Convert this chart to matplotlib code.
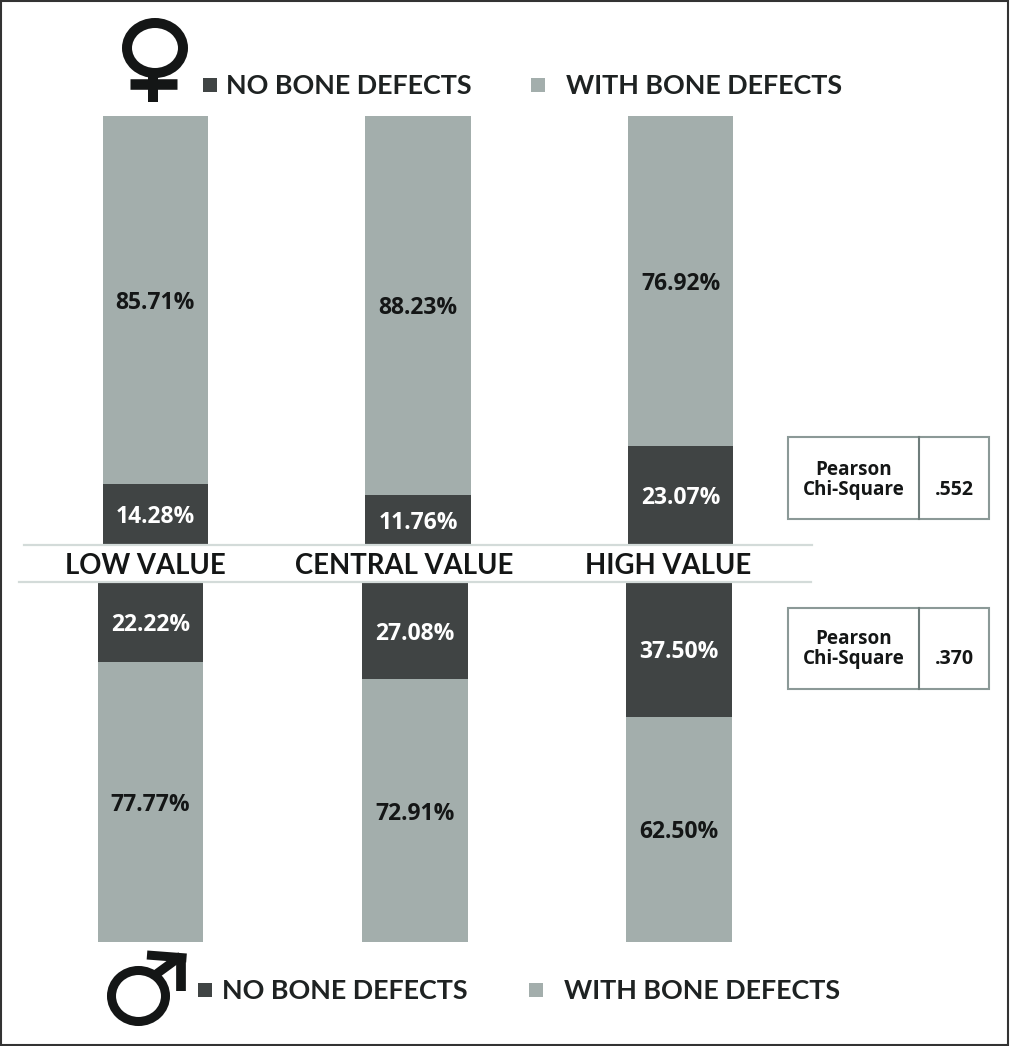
import matplotlib
matplotlib.use("Agg")
import matplotlib.pyplot as plt
from matplotlib.patches import Ellipse, Rectangle

W, H = 1010, 1046

categories = ["LOW VALUE", "CENTRAL VALUE", "HIGH VALUE"]
series_names = ["NO BONE DEFECTS", "WITH BONE DEFECTS"]
female_no = [14.28, 11.76, 23.07]
female_with = [85.71, 88.23, 76.92]
male_no = [22.22, 27.08, 37.50]
male_with = [77.77, 72.91, 62.50]
chi_female = ".552"
chi_male = ".370"

DARK = "#404444"
LIGHT = "#a3aeac"
LINE = "#d3dbd9"
BOX = "#8b9997"
INK = "#141616"


def px_axes(fig, left, right, top, bottom):
    return fig.add_axes([left / W, 1 - bottom / H, (right - left) / W, (bottom - top) / H])


def stacked(ax, no_vals, with_vals, flip):
    xs = range(len(no_vals))
    ax.bar(xs, no_vals, width=0.4, color=DARK)
    ax.bar(xs, with_vals, width=0.4, bottom=no_vals, color=LIGHT)
    ax.set_xlim(-0.5, 2.5)
    ax.set_ylim(99.99, 0) if flip else ax.set_ylim(0, 99.99)
    ax.set_xticks([])
    ax.set_yticks([])
    for s in ax.spines.values():
        s.set_visible(False)
    edge = "top" if flip else "bottom"
    ax.spines[edge].set_visible(True)
    ax.spines[edge].set_color(LINE)
    ax.spines[edge].set_linewidth(1.6)
    # labels sit a little below the middle of each segment
    for i, (a, b) in enumerate(zip(no_vals, with_vals)):
        ax.annotate(f"{a:.2f}%", (i, a / 2), xytext=(0, -2), textcoords="offset points",
                    color="white", ha="center", va="center",
                    fontsize=16.5, fontweight="bold", family="Open Sans")
        ax.annotate(f"{b:.2f}%", (i, a + b / 2), xytext=(0, -2), textcoords="offset points",
                    color=INK, ha="center", va="center",
                    fontsize=16.5, fontweight="bold", family="Open Sans")


def legend_row(ax, y, sq1, lab1, sq2, lab2):
    for sx, lx, name, col in [(sq1, lab1, series_names[0], DARK), (sq2, lab2, series_names[1], LIGHT)]:
        ax.add_patch(Rectangle((sx, y - 7), 14, 14, color=col, lw=0))
        ax.text(lx, y + 1, name, ha="left", va="center", fontsize=19.4, fontweight="bold",
                family="Lato", color="#1e2222")


def chi_box(ax, top, bottom, y1, y2, value):
    ax.add_patch(Rectangle((788, top), 201, bottom - top, fc="white", ec=BOX, lw=1.5))
    ax.plot([919, 919], [top, bottom], color="#6f7d7b", lw=1.5)
    ax.text(854, y1, "Pearson", ha="center", va="center", fontsize=13.6,
            fontweight="bold", family="Open Sans", color=INK)
    ax.text(854, y2, "Chi-Square", ha="center", va="center", fontsize=13.6,
            fontweight="bold", family="Open Sans", color=INK)
    ax.text(954, y2, value, ha="center", va="center", fontsize=14,
            fontweight="bold", family="Open Sans", color=INK)


def main():
    fig = plt.figure(figsize=(W / 100, H / 100), dpi=100, facecolor="white")

    top_ax = px_axes(fig, 24, 812, 116, 545)
    stacked(top_ax, female_no, female_with, False)
    bot_ax = px_axes(fig, 18.5, 811, 582, 942)
    stacked(bot_ax, male_no, male_with, True)

    ov = fig.add_axes([0, 0, 1, 1], zorder=5)
    ov.set_xlim(0, W)
    ov.set_ylim(H, 0)
    ov.axis("off")
    ov.patch.set_alpha(0)

    # frame
    ov.add_patch(Rectangle((1, 1), W - 3, H - 2, fill=False, ec="#333333", lw=1.5))

    for name, cx in zip(categories, [145, 404, 668]):
        ov.text(cx, 566, name, ha="center", va="center", fontsize=19.8, fontweight="bold",
                family="Lato", color=INK)

    legend_row(ov, 85, 203, 226, 531, 566)
    legend_row(ov, 990, 198, 222, 529, 564)

    chi_box(ov, 437, 519, 470, 490, chi_female)
    chi_box(ov, 608, 689, 639, 659, chi_male)

    # female sign
    ov.add_patch(Ellipse((155, 48), 56, 50, fill=False, ec=INK, lw=7.2))
    ov.plot([130, 177], [83.5, 83.5], color=INK, lw=7.6, solid_capstyle="butt")
    ov.plot([153, 153], [76, 101.5], color=INK, lw=7.2, solid_capstyle="butt")

    # male sign
    ov.add_patch(Ellipse((138.5, 996), 54, 51, fill=False, ec=INK, lw=6.5))
    ov.plot([155, 181], [975, 956], color=INK, lw=6.5, solid_capstyle="butt")
    ov.plot([147, 186.5], [955, 958], color=INK, lw=6.5, solid_capstyle="butt")
    ov.plot([181, 181], [955, 991], color=INK, lw=7, solid_capstyle="butt")

    fig.savefig("out.png", dpi=100)
    plt.close(fig)


if __name__ == "__main__":
    main()
